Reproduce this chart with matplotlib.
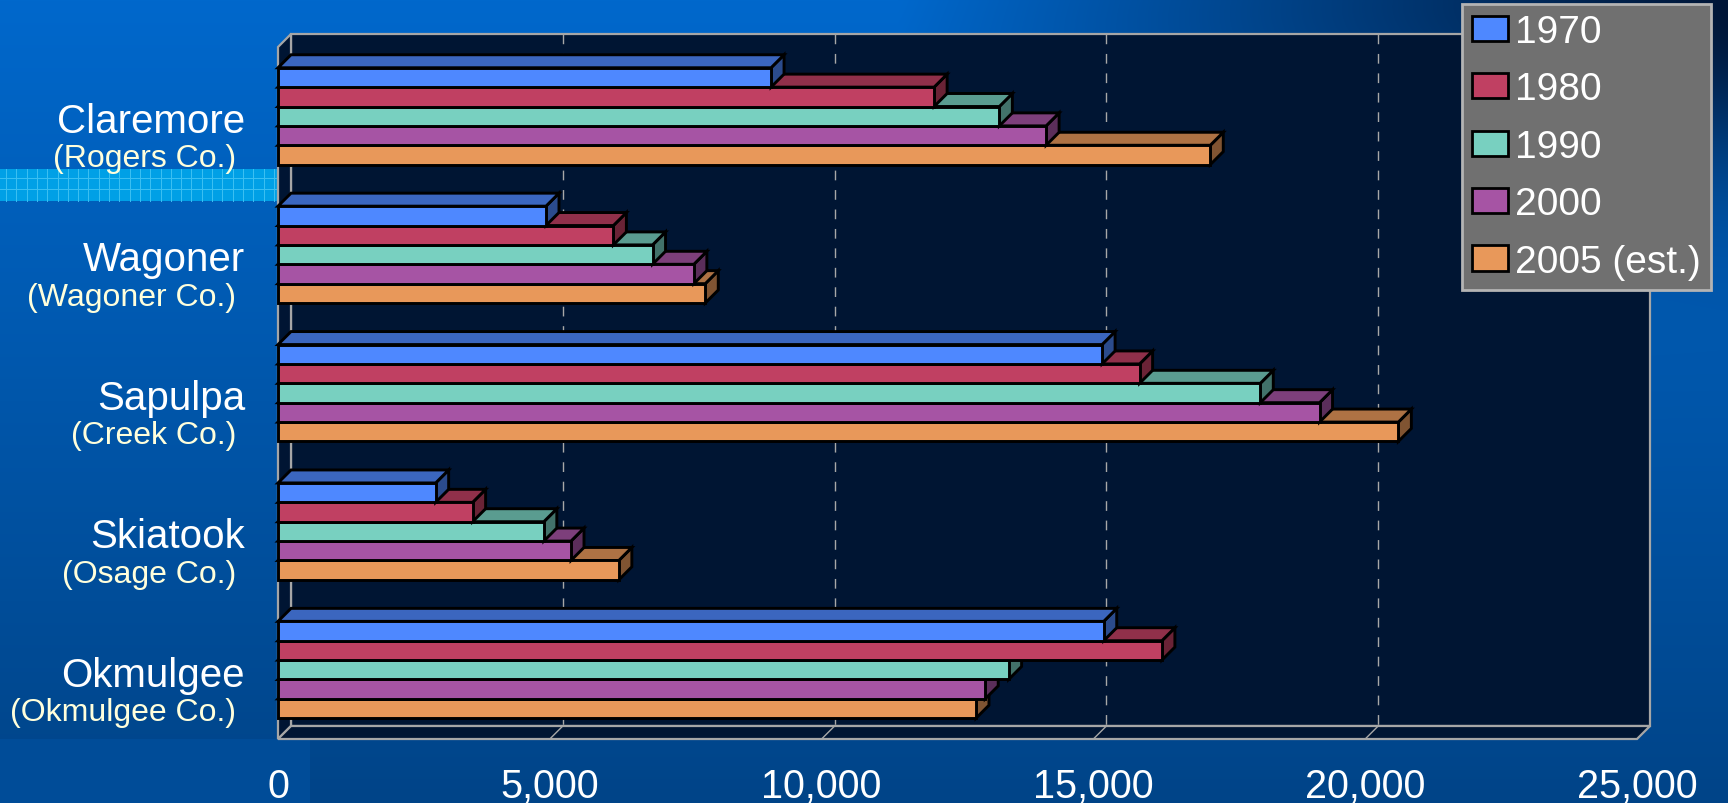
import numpy as np
import matplotlib.pyplot as plt
from matplotlib.patches import Polygon, Rectangle, Patch
from matplotlib import transforms

plt.rcParams['font.family'] = ['Liberation Sans', 'DejaVu Sans']

# data
towns = ['Claremore', 'Wagoner', 'Sapulpa', 'Skiatook', 'Okmulgee']
counties = ['(Rogers Co.)', '(Wagoner Co.)', '(Creek Co.)', '(Osage Co.)', '(Okmulgee Co.)']
years = ['1970', '1980', '1990', '2000', '2005 (est.)']
pop_1970 = [9070, 4930, 15160, 2900, 15190]
pop_1980 = [12070, 6170, 15850, 3580, 16260]
pop_1990 = [13270, 6890, 18070, 4890, 13440]
pop_2000 = [14130, 7650, 19160, 5390, 13010]
pop_2005 = [17150, 7860, 20610, 6270, 12840]
x_ticks = [0, 5000, 10000, 15000, 20000, 25000]

series = [pop_1970, pop_1980, pop_1990, pop_2000, pop_2005]
colors = ['#4E88FF', '#C04062', '#78D0C0', '#A654A4', '#E8985A']

W, H = 1728, 804
fig = plt.figure(figsize=(W / 100, H / 100), dpi=100)

# background gradient (slide template)
bg = fig.add_axes([0, 0, 1, 1])
yy, xx = np.mgrid[0:1:201j, 0:1:432j]
top_c = np.array([0, 104, 204])
bot_c = np.array([0, 68, 136])
dark = np.array([0, 22, 55])
base = top_c + (bot_c - top_c) * yy[..., None]
w = np.clip((xx - 0.52) / 0.48, 0, 1) * np.exp(-(yy / 0.22) ** 2)
img = (base * (1 - w[..., None]) + dark * w[..., None]) / 255
bg.imshow(img, extent=[0, 1, 0, 1], aspect='auto', interpolation='bilinear')
bg.set_xlim(0, 1)
bg.set_ylim(0, 1)
bg.axis('off')
bg.add_patch(Rectangle((0, 0), 310 / W, 64 / H, fc='#004C98', ec='none'))
# checkered band on the left
bg.add_patch(Rectangle((0, 1 - 202 / H), 277 / W, 32 / H, fc='#00A0E6', ec='none'))
for px in np.arange(6, 277, 10.3):
    bg.plot([px / W, px / W], [1 - 202 / H, 1 - 170 / H], color='#3CC0F2', lw=0.7)
for py in [179, 190]:
    bg.plot([0, 277 / W], [1 - py / H, 1 - py / H], color='#3CC0F2', lw=0.7)

# main axes = front plane of the 3D box
left_px, right_px, top_px, bot_px = 278, 1637, 48, 740
ax = fig.add_axes([left_px / W, 1 - bot_px / H, (right_px - left_px) / W, (bot_px - top_px) / H])
xmax = 25000
n = len(towns)
ax.set_xlim(0, xmax)
ax.set_ylim(n, 0)
ax.patch.set_visible(False)
for s in ax.spines.values():
    s.set_visible(False)

depth_px = 13
DX = depth_px / (right_px - left_px) * xmax
DY = depth_px / (bot_px - top_px) * n

navy = '#001533'
edge = '#A6A6A6'
ax.add_patch(Rectangle((DX, -DY), xmax, n, fc=navy, ec=edge, lw=1.6, clip_on=False, zorder=1))
ax.add_patch(Polygon([(0, 0), (DX, -DY), (DX, n - DY), (0, n)], closed=True,
                     fc=navy, ec=edge, lw=1.6, clip_on=False, zorder=1))
ax.add_patch(Polygon([(0, n), (DX, n - DY), (xmax + DX, n - DY), (xmax, n)], closed=True,
                     fc=navy, ec=edge, lw=1.6, clip_on=False, zorder=1))

for v in x_ticks[1:-1]:
    ax.plot([v + DX, v + DX], [-DY, n - DY], color='#A8A8A8', lw=1.0,
            ls=(0, (7, 7)), clip_on=False, zorder=2)
    ax.plot([v, v + DX], [n, n - DY], color='#A8A8A8', lw=1.0, clip_on=False, zorder=2)

# 3D bars
bar_h = 0.14
start = 0.15
z = 3
for i in range(n):
    for j in reversed(range(len(series))):
        v = series[j][i]
        c = np.array(plt.matplotlib.colors.to_rgb(colors[j]))
        t = i + start + j * bar_h
        side = Polygon([(v, t), (v + DX, t - DY), (v + DX, t + bar_h - DY), (v, t + bar_h)],
                       closed=True, fc=c * 0.55, ec='black', lw=2.1, clip_on=False, zorder=z)
        top = Polygon([(0, t), (v, t), (v + DX, t - DY), (DX, t - DY)],
                      closed=True, fc=c * 0.75, ec='black', lw=2.1, clip_on=False, zorder=z)
        front = Rectangle((0, t), v, bar_h, fc=c, ec='black', lw=2.1, clip_on=False, zorder=z)
        ax.add_patch(side)
        ax.add_patch(top)
        ax.add_patch(front)
        z += 0.01

ax.set_xticks(x_ticks)
ax.set_xticklabels([f'{v:,}' for v in x_ticks])
ax.tick_params(axis='x', length=0, pad=20, labelsize=28.5, labelcolor='white')
ax.set_yticks([])

trans = transforms.blended_transform_factory(fig.transFigure, ax.transData)
for i in range(n):
    ax.text(245 / W, i + 0.535, towns[i], ha='right', va='center', fontsize=29,
            color='white', transform=trans)
    ax.text(236 / W, i + 0.805, counties[i], ha='right', va='center', fontsize=23,
            color='#FFFFDC', transform=trans)

handles = [Patch(fc=c, ec='black', lw=2) for c in colors]
leg = fig.legend(handles, years, loc='upper right', bbox_to_anchor=(1711 / W, 1 - 5 / H),
                 fontsize=28, labelcolor='white', frameon=True, facecolor='#707070',
                 edgecolor='#B4B4B4', framealpha=1, fancybox=False, borderpad=0.26,
                 handlelength=0.93, handleheight=0.62, handletextpad=0.18,
                 labelspacing=0.55, borderaxespad=0)
leg.get_frame().set_linewidth(2)

fig.savefig('out.png', dpi=100)
